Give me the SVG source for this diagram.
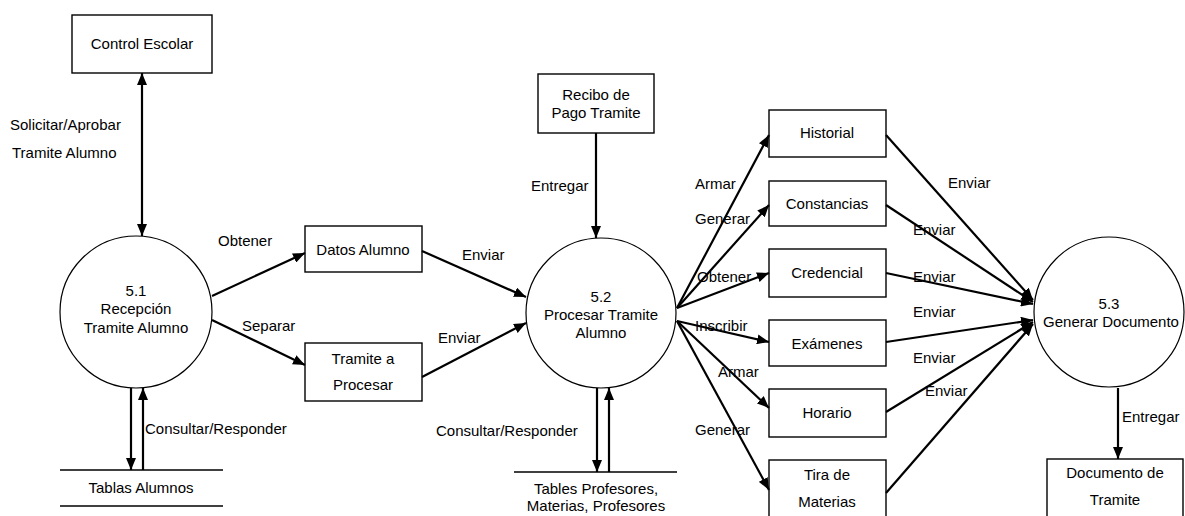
<svg xmlns="http://www.w3.org/2000/svg" width="1185" height="516" viewBox="0 0 1185 516">
  <defs>
    <marker id="ah" viewBox="0 0 12 10" refX="12" refY="5" markerWidth="12" markerHeight="10" orient="auto-start-reverse" markerUnits="userSpaceOnUse">
      <path d="M0,0 L12,5 L0,10 z" fill="#000"/>
    </marker>
    <style>
      text { font-family: "Liberation Sans", Arial, sans-serif; font-size: 15px; fill: #000; }
      .c { text-anchor: middle; }
      .box { fill: #fff; stroke: #000; stroke-width: 1.4; }
      .proc { fill: #fff; stroke: #000; stroke-width: 1.2; }
      .store { stroke: #000; stroke-width: 1.6; }
      .flow { fill: none; stroke: #000; stroke-width: 2.2; marker-end: url(#ah); }
      .both { marker-start: url(#ah); }
    </style>
  </defs>
  <rect width="1185" height="516" fill="#fff"/>

  <!-- external entities -->
  <g id="control-escolar">
    <rect class="box" x="72" y="15" width="140" height="58"/>
    <text class="c" x="142" y="49">Control Escolar</text>
  </g>
  <g id="recibo-pago">
    <rect class="box" x="538" y="74" width="116" height="59"/>
    <text class="c" x="596" y="100">Recibo de</text>
    <text class="c" x="596" y="118">Pago Tramite</text>
  </g>
  <g id="documento-tramite">
    <rect class="box" x="1047" y="459" width="136" height="70"/>
    <text class="c" x="1115" y="478">Documento de</text>
    <text class="c" x="1115" y="505">Tramite</text>
  </g>

  <!-- intermediate records -->
  <g id="datos-alumno">
    <rect class="box" x="305" y="226" width="117" height="46"/>
    <text class="c" x="363" y="255">Datos Alumno</text>
  </g>
  <g id="tramite-procesar">
    <rect class="box" x="305" y="343" width="117" height="58"/>
    <text class="c" x="363" y="364">Tramite a</text>
    <text class="c" x="363" y="390">Procesar</text>
  </g>
  <g id="historial">
    <rect class="box" x="769" y="110" width="117" height="47"/>
    <text class="c" x="827" y="138">Historial</text>
  </g>
  <g id="constancias">
    <rect class="box" x="769" y="181" width="117" height="45"/>
    <text class="c" x="827" y="209">Constancias</text>
  </g>
  <g id="credencial">
    <rect class="box" x="769" y="249" width="117" height="48"/>
    <text class="c" x="827" y="278">Credencial</text>
  </g>
  <g id="examenes">
    <rect class="box" x="769" y="320" width="117" height="46"/>
    <text class="c" x="827" y="349">Exámenes</text>
  </g>
  <g id="horario">
    <rect class="box" x="769" y="389" width="117" height="48"/>
    <text class="c" x="827" y="418">Horario</text>
  </g>
  <g id="tira-materias">
    <rect class="box" x="769" y="460" width="117" height="70"/>
    <text class="c" x="827" y="480">Tira de</text>
    <text class="c" x="827" y="507">Materias</text>
  </g>

  <!-- processes -->
  <g id="proc-5-1">
    <circle class="proc" cx="136" cy="312" r="76"/>
    <text class="c" x="136" y="296">5.1</text>
    <text class="c" x="136" y="314">Recepción</text>
    <text class="c" x="136" y="333">Tramite Alumno</text>
  </g>
  <g id="proc-5-2">
    <circle class="proc" cx="601" cy="313" r="75"/>
    <text class="c" x="601" y="302">5.2</text>
    <text class="c" x="601" y="320">Procesar Tramite</text>
    <text class="c" x="601" y="338">Alumno</text>
  </g>
  <g id="proc-5-3">
    <circle class="proc" cx="1109" cy="312" r="75"/>
    <text class="c" x="1109" y="309">5.3</text>
    <text class="c" x="1111" y="327">Generar Documento</text>
  </g>

  <!-- data stores -->
  <g id="tablas-alumnos">
    <line class="store" x1="60" y1="470" x2="223" y2="470"/>
    <line class="store" x1="60" y1="506" x2="223" y2="506"/>
    <text class="c" x="141" y="493">Tablas Alumnos</text>
  </g>
  <g id="tablas-profesores">
    <line class="store" x1="514" y1="472" x2="677" y2="472"/>
    <text class="c" x="596" y="494">Tables Profesores,</text>
    <text class="c" x="596" y="511">Materias, Profesores</text>
  </g>

  <!-- connectors -->
  <g id="connectors">
    <line class="flow both" x1="142" y1="73" x2="142" y2="236"/>
    <line class="flow" x1="131" y1="388" x2="131" y2="470"/>
    <line class="flow" x1="143" y1="470" x2="143" y2="388"/>
    <line class="flow" x1="212" y1="296" x2="305" y2="253"/>
    <line class="flow" x1="212" y1="320" x2="305" y2="365"/>
    <line class="flow" x1="422" y1="251" x2="526" y2="297"/>
    <line class="flow" x1="422" y1="377" x2="526" y2="323"/>
    <line class="flow" x1="596" y1="133" x2="596" y2="238"/>
    <line class="flow" x1="597" y1="388" x2="597" y2="472"/>
    <line class="flow" x1="609" y1="472" x2="609" y2="388"/>
    <line class="flow" x1="677" y1="308" x2="769" y2="135"/>
    <line class="flow" x1="677" y1="308" x2="769" y2="205"/>
    <line class="flow" x1="677" y1="308" x2="769" y2="273"/>
    <line class="flow" x1="677" y1="321" x2="769" y2="342"/>
    <line class="flow" x1="677" y1="321" x2="769" y2="408"/>
    <line class="flow" x1="677" y1="321" x2="769" y2="490"/>
    <line class="flow" x1="886" y1="135" x2="1033" y2="300"/>
    <line class="flow" x1="886" y1="205" x2="1033" y2="302"/>
    <line class="flow" x1="886" y1="273" x2="1033" y2="304"/>
    <line class="flow" x1="886" y1="342" x2="1033" y2="320"/>
    <line class="flow" x1="886" y1="412" x2="1033" y2="322"/>
    <line class="flow" x1="886" y1="493" x2="1033" y2="324"/>
    <line class="flow" x1="1118" y1="388" x2="1118" y2="459"/>
  </g>

  <!-- flow labels -->
  <g id="labels">
    <text x="10" y="130">Solicitar/Aprobar</text>
    <text x="12" y="158">Tramite Alumno</text>
    <text x="145" y="434">Consultar/Responder</text>
    <text x="218" y="246">Obtener</text>
    <text x="242" y="331">Separar</text>
    <text x="462" y="260">Enviar</text>
    <text x="438" y="343">Enviar</text>
    <text x="531" y="191">Entregar</text>
    <text x="436" y="436">Consultar/Responder</text>
    <text x="695" y="189">Armar</text>
    <text x="695" y="224">Generar</text>
    <text x="697" y="282">Obtener</text>
    <text x="695" y="331">Inscribir</text>
    <text x="718" y="377">Armar</text>
    <text x="695" y="435">Generar</text>
    <text x="948" y="188">Enviar</text>
    <text x="913" y="235">Enviar</text>
    <text x="913" y="282">Enviar</text>
    <text x="913" y="317">Enviar</text>
    <text x="913" y="363">Enviar</text>
    <text x="925" y="396">Enviar</text>
    <text x="1122" y="422">Entregar</text>
  </g>
</svg>
